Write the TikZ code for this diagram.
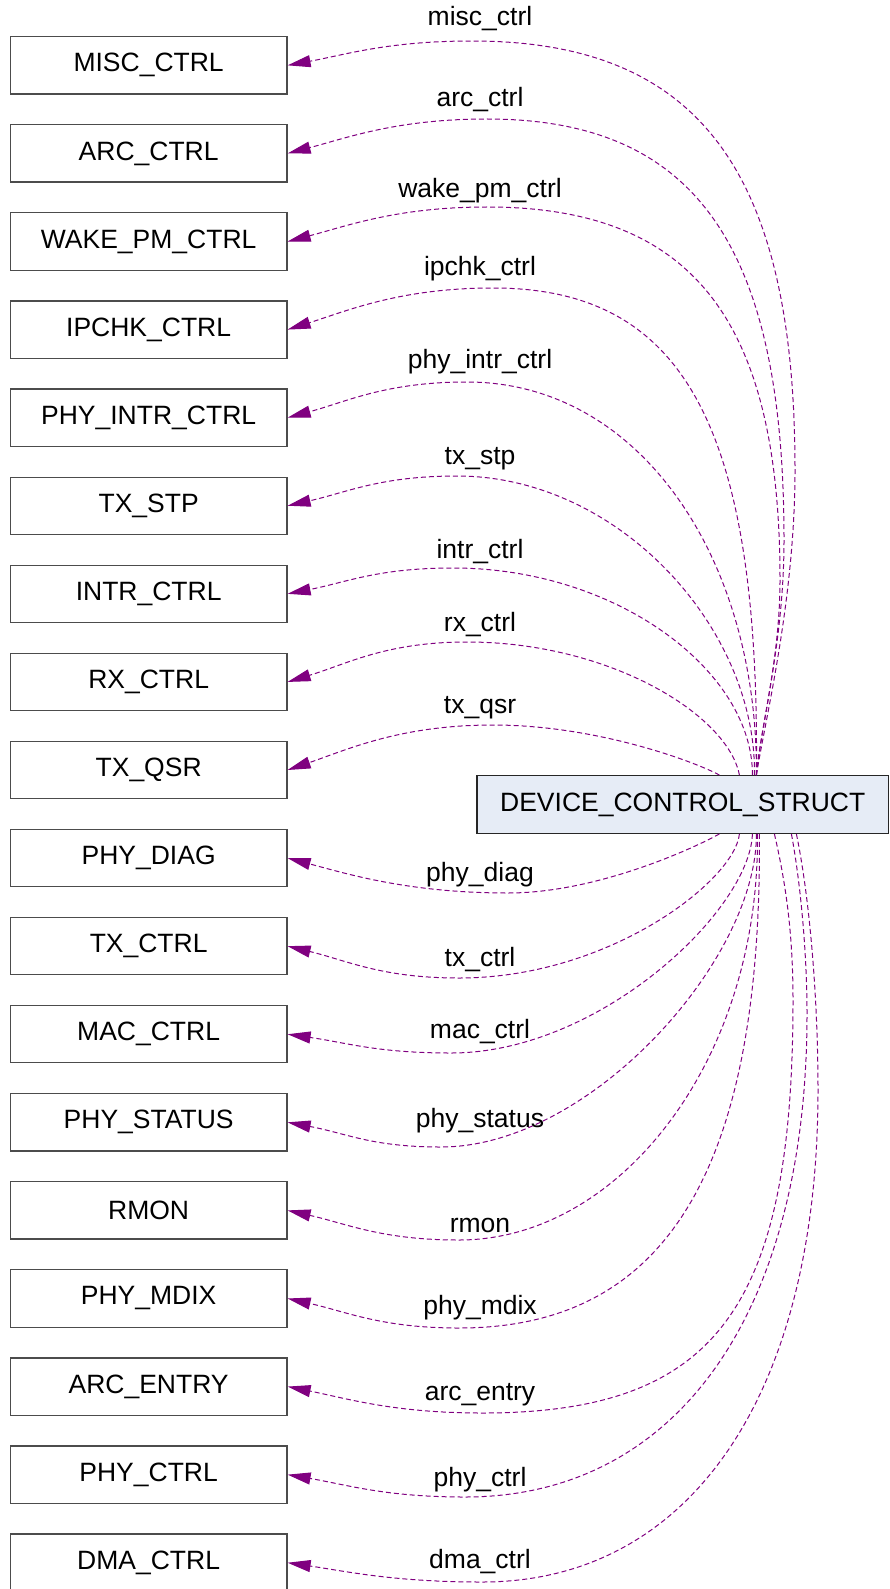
\documentclass[tikz,border=0pt]{standalone}
\usepackage{fontspec}
\setmainfont{Liberation Sans}
\usetikzlibrary{arrows.meta}
\definecolor{edgecol}{HTML}{800080}
\definecolor{cfill}{HTML}{E6ECF6}
\begin{document}
\begin{tikzpicture}[x=1pt,y=-1pt,
  txt/.style={font=\fontsize{26.5pt}{30pt}\selectfont},
  lbox/.style={txt,draw=black!70,line width=1.2pt,fill=white,minimum width=276.7pt,minimum height=57.3pt,inner sep=0pt},
  cbox/.style={txt,draw=black!85,line width=1.2pt,fill=cfill,minimum width=411.5pt,minimum height=57.6pt,inner sep=0pt},
  dep/.style={draw=edgecol,line width=1pt,dash pattern=on 5pt off 3pt,-{Triangle[length=23pt,width=12pt,fill=edgecol]}},
  lbl/.style={txt,inner sep=0pt}]
\useasboundingbox (0,0) rectangle (889,1589);
\foreach \n/\t [count=\i from 0] in {misc/MISC\_CTRL,arc/ARC\_CTRL,wake/WAKE\_PM\_CTRL,ipchk/IPCHK\_CTRL,phyintr/PHY\_INTR\_CTRL,txstp/TX\_STP,intr/INTR\_CTRL,rx/RX\_CTRL,txqsr/TX\_QSR,phydiag/PHY\_DIAG,txctrl/TX\_CTRL,mac/MAC\_CTRL,phystatus/PHY\_STATUS,rmon/RMON,phymdix/PHY\_MDIX,arcentry/ARC\_ENTRY,phyctrl/PHY\_CTRL,dma/DMA\_CTRL}
  \node[lbox] (\n) at (148.65,{65.35+88.08*\i}) {\t};
\node[cbox] (dcs) at (682.75,804.5) {DEVICE\_CONTROL\_STRUCT};

% upper edges
\draw[dep] ([xshift=280pt]dcs.north west) .. controls (765,720) and (795,600) .. (795,470) .. controls (795,170) and (698,41) .. (472,41) .. controls (388.75,41) and (347,54.4) .. (misc.east);
\draw[dep] ([xshift=280pt]dcs.north west) .. controls (762,720) and (784,640) .. (784,540) .. controls (784,245) and (695,119) .. (487,119) .. controls (397,119) and (347,137.9) .. (arc.east);
\draw[dep] ([xshift=280pt]dcs.north west) .. controls (760,730) and (780,660) .. (780,580) .. controls (780,319) and (692,207) .. (487,207) .. controls (397,207) and (347,226) .. (wake.east);
\draw[dep] ([xshift=280pt]dcs.north west) .. controls (760,420) and (680,288) .. (493,288) .. controls (400,288) and (347,310.9) .. (ipchk.east);
\draw[dep] ([xshift=280pt]dcs.north west) .. controls (758,560) and (641,382) .. (467,382) .. controls (386,382) and (347,401.6) .. (phyintr.east);
\draw[dep] ([xshift=278pt]dcs.north west) .. controls (757,630) and (620,476) .. (457,476) .. controls (380.5,476) and (347,492.4) .. (txstp.east);
\draw[dep] ([xshift=276pt]dcs.north west) .. controls (753,672) and (618,568) .. (453,568) .. controls (378,568) and (347,582.2) .. (intr.east);
\draw[dep] ([xshift=263pt]dcs.north west) .. controls (728,715) and (610,642) .. (467,642) .. controls (386,642) and (347,664) .. (rx.east);
\draw[dep] ([xshift=243pt]dcs.north west) .. controls (700,764) and (600,725) .. (493,725) .. controls (400,725) and (347,749.75) .. (txqsr.east);

% lower edges
\draw[dep] ([xshift=243pt]dcs.south west) .. controls (700,845) and (600,893) .. (508,893) .. controls (408.5,893) and (347,873.8) .. (phydiag.east);
\draw[dep] ([xshift=263pt]dcs.south west) .. controls (735,880) and (610,978) .. (459,978) .. controls (381.6,978) and (347,960.5) .. (txctrl.east);
\draw[dep] ([xshift=276pt]dcs.south west) .. controls (750,910) and (600,1053) .. (451,1053) .. controls (377,1053) and (347,1042.7) .. (mac.east);
\draw[dep] ([xshift=280pt]dcs.south west) .. controls (757,960) and (590,1147) .. (441,1147) .. controls (371.7,1147) and (347,1133.4) .. (phystatus.east);
\draw[dep] ([xshift=281pt]dcs.south west) .. controls (760,1060) and (620,1240) .. (459,1240) .. controls (381.6,1240) and (347,1223.7) .. (rmon.east);
\draw[dep] ([xshift=283pt]dcs.south west) .. controls (762,1180) and (660,1328) .. (459,1328) .. controls (381.6,1328) and (347,1311.8) .. (phymdix.east);
\draw[dep] ([xshift=298pt]dcs.south west) .. controls (785,880) and (793,930) .. (793,1000) .. controls (793,1310) and (715,1413) .. (482,1413) .. controls (394,1413) and (347,1398.5) .. (arcentry.east);
\draw[dep] ([xshift=315pt]dcs.south west) .. controls (800,880) and (807,950) .. (807,1014) .. controls (807,1313) and (677,1497) .. (465,1497) .. controls (385,1497) and (347,1484.7) .. (phyctrl.east);
\draw[dep] ([xshift=320pt]dcs.south west) .. controls (810,900) and (818,1000) .. (818,1090) .. controls (818,1395) and (690,1582) .. (482,1582) .. controls (394,1582) and (347,1571.4) .. (dma.east);

% labels
\node[lbl] (l0) at (480,19) {misc\_ctrl};
\node[lbl] (l1) at (480,100) {arc\_ctrl};
\node[lbl] (l2) at (480,191) {wake\_pm\_ctrl};
\node[lbl] (l3) at (480,269) {ipchk\_ctrl};
\node[lbl] (l4) at (480,362) {phy\_intr\_ctrl};
\node[lbl] (l5) at (480,459) {tx\_stp};
\node[lbl] (l6) at (480,552) {intr\_ctrl};
\node[lbl] (l7) at (480,625) {rx\_ctrl};
\node[lbl] (l8) at (480,708) {tx\_qsr};
\node[lbl] (l9) at (480,875) {phy\_diag};
\node[lbl] (l10) at (480,960) {tx\_ctrl};
\node[lbl] (l11) at (480,1032) {mac\_ctrl};
\node[lbl] (l12) at (480,1121) {phy\_status};
\node[lbl] (l13) at (480,1225) {rmon};
\node[lbl] (l14) at (480,1308) {phy\_mdix};
\node[lbl] (l15) at (480,1395) {arc\_entry};
\node[lbl] (l16) at (480,1480) {phy\_ctrl};
\node[lbl] (l17) at (480,1562) {dma\_ctrl};
\end{tikzpicture}
\end{document}
